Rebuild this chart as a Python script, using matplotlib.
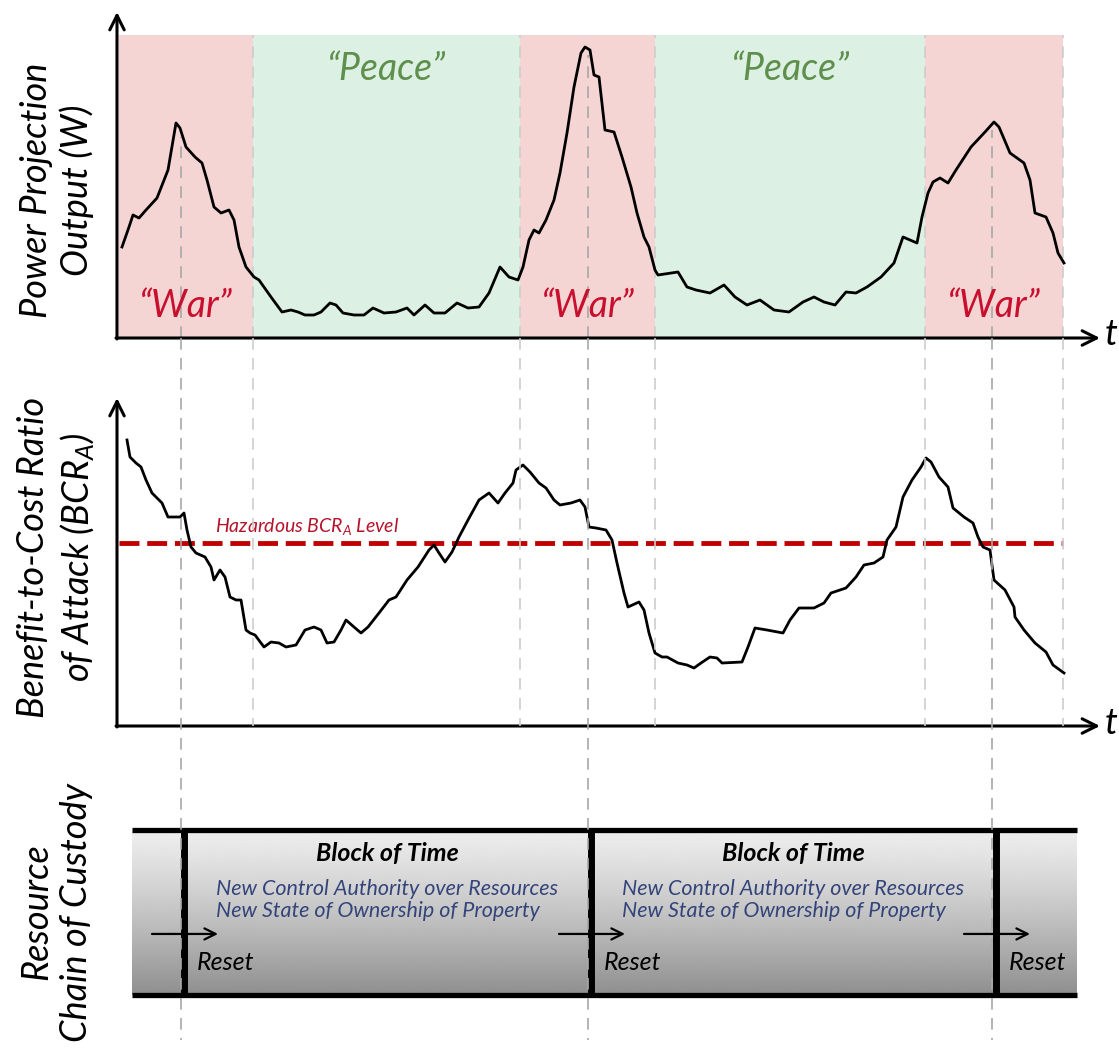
import numpy as np
import matplotlib.pyplot as plt

plt.rcParams['font.family'] = ['Lato', 'DejaVu Sans']
plt.rcParams['mathtext.fontset'] = 'custom'
plt.rcParams['mathtext.it'] = 'Lato:italic'
plt.rcParams['mathtext.rm'] = 'Lato:italic'

# time axis (arbitrary units) and the three regimes
war_spans = [(119, 253), (520, 655), (925, 1063)]
peace_spans = [(253, 520), (655, 925)]
peak_times = [181, 588, 992]
reset_times = [184, 591, 996]
boundaries = [253, 520, 655, 925, 1063]

# power projection output W(t)
t_power = [122, 129, 133, 139, 146, 157, 168, 176, 180, 186,
           195, 202, 207, 214, 221, 229, 234, 239, 246, 254,
           259, 271, 282, 291, 298, 305, 314, 321, 330, 336,
           343, 354, 364, 373, 384, 396, 407, 414, 425, 434,
           445, 457, 468, 479, 489, 500, 509, 518, 523, 529,
           534, 539, 546, 554, 560, 567, 574, 581, 585, 590,
           594, 599, 605, 614, 622, 631, 637, 644, 649, 655,
           658, 678, 687, 696, 710, 724, 735, 747, 760, 774,
           789, 803, 814, 824, 835, 846, 856, 867, 881, 894,
           903, 910, 917, 922, 928, 933, 940, 948, 956, 971,
           985, 994, 999, 1010, 1024, 1030, 1035, 1046, 1053, 1058,
           1064]
power = [91, 111, 123, 120, 128, 140, 168, 215, 210, 191,
         181, 175, 158, 131, 125, 128, 118, 91, 71, 61,
         58, 41, 26, 28, 26, 23, 23, 26, 35, 33,
         25, 23, 23, 30, 25, 26, 30, 23, 33, 25,
         25, 35, 30, 31, 45, 71, 61, 58, 71, 98,
         108, 105, 118, 138, 165, 205, 251, 285, 291, 288,
         263, 261, 208, 206, 181, 151, 125, 101, 91, 68,
         63, 66, 51, 48, 45, 53, 41, 33, 38, 28,
         26, 36, 41, 36, 33, 46, 45, 51, 61, 75,
         101, 98, 95, 121, 145, 156, 160, 155, 168, 191,
         206, 216, 211, 185, 175, 158, 125, 121, 105, 85,
         75]

# benefit-to-cost ratio of attack BCR_A(t)
t_bcr = [127, 130, 136, 141, 146, 152, 157, 162, 168, 171,
         180, 184, 187, 191, 196, 205, 211, 214, 220, 225,
         230, 236, 241, 246, 250, 255, 264, 271, 279, 286,
         296, 305, 314, 321, 327, 334, 341, 346, 354, 361,
         368, 379, 389, 396, 407, 418, 429, 434, 439, 445,
         452, 459, 468, 479, 489, 498, 505, 513, 516, 523,
         530, 539, 546, 554, 560, 571, 580, 585, 589, 596,
         606, 612, 617, 624, 628, 639, 644, 649, 655, 662,
         667, 678, 687, 694, 701, 710, 717, 722, 742, 748,
         755, 767, 783, 790, 799, 814, 824, 831, 846, 856,
         864, 874, 883, 887, 896, 903, 912, 921, 926, 931,
         939, 948, 953, 964, 973, 978, 983, 990, 994, 1005,
         1014, 1015, 1024, 1035, 1046, 1053, 1064]
bcr = [286, 269, 263, 259, 246, 233, 228, 223, 209, 209,
       209, 213, 196, 179, 173, 169, 159, 146, 156, 149,
       129, 126, 126, 96, 93, 91, 79, 84, 83, 79,
       81, 96, 99, 96, 83, 84, 96, 106, 99, 93,
       99, 113, 126, 129, 146, 159, 176, 181, 173, 164,
       174, 189, 206, 226, 233, 223, 233, 243, 256, 261,
       254, 243, 238, 226, 221, 223, 226, 219, 199, 198,
       196, 186, 163, 133, 119, 124, 116, 93, 73, 69,
       69, 63, 61, 58, 63, 69, 68, 63, 64, 79,
       98, 96, 93, 106, 118, 118, 123, 133, 138, 149,
       161, 163, 169, 186, 199, 229, 246, 259, 268, 264,
       249, 239, 218, 209, 203, 189, 179, 176, 146, 136,
       119, 109, 96, 83, 74, 61, 53]
hazard_level = 183

W, H = 1119, 1048
fig = plt.figure(figsize=(W / 100, H / 100), dpi=100)


def rect(x0, y0, x1, y1):
    return [x0 / W, 1 - y1 / H, (x1 - x0) / W, (y1 - y0) / H]


def fxy(x, y):
    return (x / W, 1 - y / H)


def axis_arrows(ax):
    for spine in ax.spines.values():
        spine.set_visible(False)
    ax.set_xticks([])
    ax.set_yticks([])
    arrow = dict(arrowstyle='->', lw=2.2, color='black', mutation_scale=26,
                 shrinkA=0, shrinkB=0)
    ax.annotate('', xy=(1, 0), xytext=(-0.001, 0), xycoords='axes fraction',
                arrowprops=arrow, annotation_clip=False)
    ax.annotate('', xy=(0, 1), xytext=(0, -0.003), xycoords='axes fraction',
                arrowprops=arrow, annotation_clip=False)
    ax.patch.set_visible(False)


grey_light = '#cdcdcd'
grey_dark = '#a8a8a8'
dash = (0, (7, 5))

# ---- top panel: power projection output
ax1 = fig.add_axes(rect(117, 12, 1100, 338))
ax1.set_xlim(117, 1100)
ax1.set_ylim(0, 326)
for a, b in war_spans:
    ax1.axvspan(a, b, ymin=0, ymax=303 / 326, color='#f5d4d4', lw=0, zorder=0)
    ax1.text((a + b) / 2, 32, '\u201cWar\u201d', color='#c8102e', fontsize=27,
             style='italic', ha='center', va='center')
for a, b in peace_spans:
    ax1.axvspan(a, b, ymin=0, ymax=303 / 326, color='#dcf1e3', lw=0, zorder=0)
    ax1.text((a + b) / 2, 269, '\u201cPeace\u201d', color='#5f8f4c', fontsize=27,
             style='italic', ha='center', va='center')
peak_vals = np.interp(peak_times, t_power, power)
ax1.vlines(peak_times, 0, peak_vals - 6, colors=grey_dark, lw=1.2,
           linestyles=dash, zorder=1)
ax1.vlines(boundaries, 0, 303, colors=grey_light, lw=1.2, linestyles=dash,
           zorder=1)
ax1.plot(t_power, power, color='black', lw=2.0, zorder=3)
axis_arrows(ax1)

# ---- middle panel: benefit-to-cost ratio
ax2 = fig.add_axes(rect(117, 398, 1100, 726))
ax2.set_xlim(117, 1100)
ax2.set_ylim(0, 328)
ax2.hlines(hazard_level, 119, 1063, colors='#c00000', lw=3.5,
           linestyles=(0, (4.1, 1.6)), zorder=2)
ax2.text(215, hazard_level + 16, r'Hazardous BCR$_A$ Level', color='#b5142b',
         fontsize=14, style='italic', ha='left', va='center')
ax2.plot(t_bcr, bcr, color='black', lw=2.0, zorder=3)
axis_arrows(ax2)

for ax, y in ((ax1, 338), (ax2, 726)):
    fig.text(*fxy(1111, y - 3), 't', fontsize=26, style='italic',
             ha='center', va='center')

# ---- bottom panel: resource chain of custody
ax3 = fig.add_axes(rect(117, 830, 1100, 995))
ax3.set_xlim(117, 1100)
ax3.set_ylim(0, 1)
ax3.axis('off')
v = np.linspace(0, 1, 200)[:, None]
shade = 0.93 - 0.37 * v ** 1.2
ax3.imshow(shade, cmap='gray', vmin=0, vmax=1, aspect='auto',
           extent=(132, 1077, 0, 1), zorder=0)
ax3.hlines([0, 1], 132, 1077, colors='black', lw=3.8, clip_on=False, zorder=2)
ax3.vlines(reset_times, 0, 1, colors='black', lw=5, clip_on=False, zorder=2)
for a, b in zip(reset_times[:-1], reset_times[1:]):
    xc = (a + b) / 2
    ax3.text(xc, 0.855, 'Block of Time', fontsize=18, weight='bold',
             style='italic', ha='center', va='center')
    ax3.text(xc, 0.575, 'New Control Authority over Resources\n'
             'New State of Ownership of Property', fontsize=15.5,
             style='italic', color='#33447a', ha='center', va='center',
             multialignment='left', linespacing=1.15)
for r in reset_times:
    ax3.annotate('', xy=(r + 34, 0.37), xytext=(r - 32, 0.37),
                 arrowprops=dict(arrowstyle='->', lw=1.6, color='black',
                                 mutation_scale=20, shrinkA=0, shrinkB=0),
                 zorder=3)
    ax3.text(r + 13, 0.2, 'Reset', fontsize=18, style='italic',
             ha='left', va='center')

# ---- overlay: dashed guides running through all panels
ov = fig.add_axes([0, 0, 1, 1])
ov.set_xlim(0, W)
ov.set_ylim(H, 0)
ov.axis('off')
ov.vlines(peak_times, 338, 1040, colors=grey_dark, lw=1.2, linestyles=dash,
          zorder=1)
ov.vlines(boundaries, 338, 726, colors=grey_light, lw=1.2, linestyles=dash,
          zorder=1)

# ---- y labels
label_kw = dict(fontsize=26, style='italic', rotation=90, ha='center',
                va='center', multialignment='center', linespacing=1.25)
fig.text(*fxy(57, 190), 'Power Projection\nOutput (W)', **label_kw)
fig.text(*fxy(57, 557), 'Benefit-to-Cost Ratio\nof Attack (BCR$_A$)', **label_kw)
fig.text(*fxy(57, 912), 'Resource\nChain of Custody', **label_kw)

fig.savefig('out.png', dpi=100)
